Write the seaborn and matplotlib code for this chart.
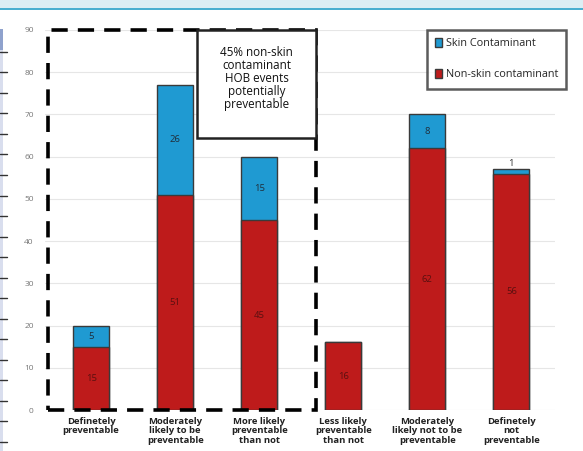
import numpy as np
import pandas as pd
import matplotlib.pyplot as plt
import matplotlib.patches as mpatches
import seaborn as sns

# Categories and values
categories = [
    "Definetely\npreventable",
    "Moderately\nlikely to be\npreventable",
    "More likely\npreventable\nthan not",
    "Less likely\npreventable\nthan not",
    "Moderately\nlikely not to be\npreventable",
    "Definetely\nnot\npreventable",
]
non_skin = [15, 51, 45, 16, 62, 56]
skin = [5, 26, 15, 0, 8, 1]
y_ticks = [0, 10, 20, 30, 40, 50, 60, 70, 80, 90]

RED = "#BE1B1B"
BLUE = "#1F9AD2"
EDGE = "#3a3a3a"

df = pd.DataFrame({
    "category": categories,
    "non_skin": non_skin,
    "skin": skin,
})
df["total"] = df["non_skin"] + df["skin"]

sns.set_style("white")
plt.rcParams["font.family"] = ["Open Sans", "DejaVu Sans"]

fig = plt.figure(figsize=(5.83, 4.51), dpi=100)
ax = fig.add_axes([0.077, 0.0909, 0.875, 0.8426])

# page decoration: top band and left strip
fig.patches.append(mpatches.Rectangle((0, 0.982), 1, 0.018, transform=fig.transFigure,
                                      facecolor="#DCEEF4", edgecolor="none", zorder=0))
fig.patches.append(mpatches.Rectangle((0, 0.977), 1, 0.005, transform=fig.transFigure,
                                      facecolor="#4AAFD0", edgecolor="none", zorder=0))
fig.patches.append(mpatches.Rectangle((0, 0.0), 0.006, 0.93, transform=fig.transFigure,
                                      facecolor="#D9DEEE", edgecolor="none", zorder=0))
fig.patches.append(mpatches.Rectangle((0, 0.89), 0.006, 0.045, transform=fig.transFigure,
                                      facecolor="#8FA2CD", edgecolor="none", zorder=0))
for yy in np.arange(0.885, 0.0, -0.0455):
    fig.lines.append(plt.Line2D([0, 0.012], [yy, yy], transform=fig.transFigure,
                                color="#333333", linewidth=1))

# stacked bars: total in blue, non-skin drawn over it in red
sns.barplot(data=df, x="category", y="total", color=BLUE, width=0.43,
            edgecolor=EDGE, linewidth=1, saturation=1, ax=ax, zorder=3)
sns.barplot(data=df, x="category", y="non_skin", color=RED, width=0.43,
            edgecolor=EDGE, linewidth=1, saturation=1, ax=ax, zorder=4)

for i, (ns, sk) in enumerate(zip(non_skin, skin)):
    ax.text(i, ns / 2, str(ns), ha="center", va="center", fontsize=6.8,
            color="#5a1010", zorder=6)
    if sk >= 3:
        ax.text(i, ns + sk / 2, str(sk), ha="center", va="center", fontsize=6.8,
                color="#1f2d3a", zorder=6)
    elif sk > 0:
        ax.text(i, ns + sk + 0.3, str(sk), ha="center", va="bottom", fontsize=6.8,
                color="#333333", zorder=6)

ax.set_xlim(-0.55, 5.52)
ax.set_ylim(0, 90)
ax.set_yticks(y_ticks)
ax.set_yticklabels([str(t) for t in y_ticks], fontsize=6, color="#777777")
ax.tick_params(axis="y", length=0, pad=8)
ax.tick_params(axis="x", length=0, pad=5)
ax.set_xticks(range(len(categories)))
ax.set_xticklabels(categories, fontsize=6.8, fontweight="bold", color="#222222",
                   linespacing=1.04, va="top")
ax.set_xlabel("")
ax.set_ylabel("")
ax.yaxis.grid(True, color="#E6E6E6", linewidth=0.8, zorder=0)
ax.set_axisbelow(True)
for s in ax.spines.values():
    s.set_visible(False)

# dashed box around the preventable categories
ax.add_patch(mpatches.Rectangle((-0.51, 0), 3.19, 90, fill=False, edgecolor="black",
                                linestyle=(0, (4.5, 2.8)), linewidth=2.6, zorder=7,
                                clip_on=False))

# annotation box
ax.add_patch(mpatches.Rectangle((1.26, 64.4), 1.42, 25.6, facecolor="white",
                                edgecolor="#222222", linewidth=1.8, zorder=8,
                                clip_on=False))
ax.text(1.97, 78.5, "45% non-skin\ncontaminant\nHOB events\npotentially\npreventable",
        ha="center", va="center", fontsize=8.4, color="#111111",
        linespacing=0.98, zorder=9)

# legend box
handles = [mpatches.Patch(facecolor=BLUE, edgecolor=EDGE, label="Skin Contaminant"),
           mpatches.Patch(facecolor=RED, edgecolor=EDGE, label="Non-skin contaminant")]
leg = fig.legend(handles=handles, loc="upper left", bbox_to_anchor=(0.732, 0.934),
                 fontsize=7.8, frameon=True, fancybox=False, handlelength=0.7,
                 handleheight=0.9, handletextpad=0.3, labelspacing=1.85,
                 borderpad=0.75, borderaxespad=0)
leg.get_frame().set_edgecolor("#333333")
leg.get_frame().set_linewidth(1.8)

fig.savefig("out.png", dpi=100)
